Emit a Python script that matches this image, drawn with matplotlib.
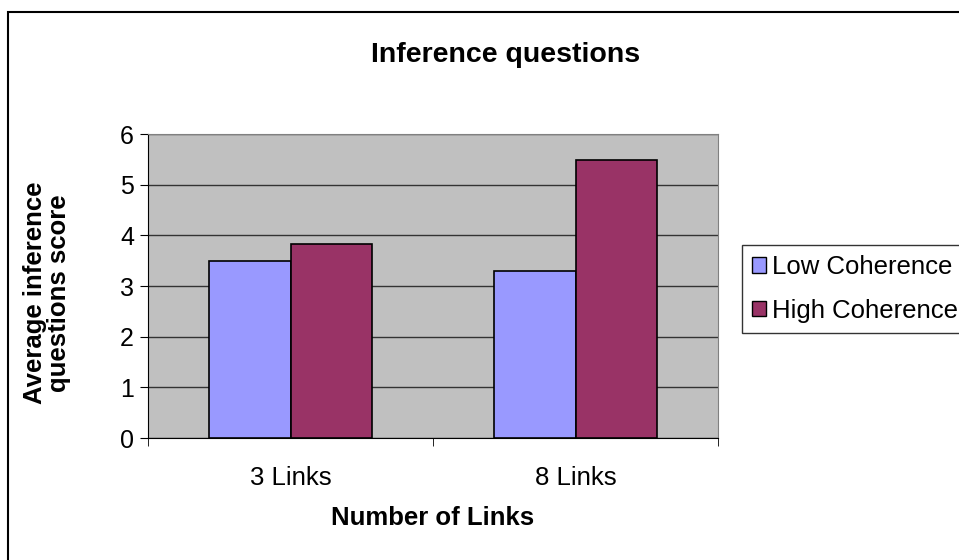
import matplotlib.pyplot as plt
import matplotlib.patches as mpatches
import numpy as np

plt.rcParams['font.family'] = ['Liberation Sans', 'DejaVu Sans']

categories = ["3 Links", "8 Links"]
low_coherence = [3.50, 3.30]
high_coherence = [3.82, 5.48]
series_names = ["Low Coherence", "High Coherence"]
colors = ["#9999FF", "#993366"]

fig = plt.figure(figsize=(9.59, 5.6), dpi=100)
ax = fig.add_axes([148 / 959, 1 - 438 / 560, 570 / 959, 304 / 560])
ax.set_facecolor("#C0C0C0")

x = np.arange(len(categories))
w = 0.2857
ax.bar(x - w / 2, low_coherence, w, color=colors[0], edgecolor="black", linewidth=1.2, zorder=3)
ax.bar(x + w / 2, high_coherence, w, color=colors[1], edgecolor="black", linewidth=1.2, zorder=3)

ax.set_xlim(-0.5, 1.5)
ax.set_ylim(0, 6)
ax.set_yticks(range(0, 7))
ax.yaxis.grid(True, color="#333333", linewidth=1, zorder=1)
ax.set_axisbelow(True)

ax.set_xticks(x)
ax.set_xticklabels(categories, fontsize=18.5)
ax.tick_params(axis="x", which="major", length=0, pad=20)
ax.set_xticks([-0.5, 0.5, 1.5], minor=True)
ax.tick_params(axis="x", which="minor", length=6, direction="out", color="black")
ax.tick_params(axis="y", labelsize=18, length=6, direction="out", pad=4)

for side in ["top", "right"]:
    ax.spines[side].set_color("#808080")
ax.spines["left"].set_color("black")
ax.spines["bottom"].set_color("black")

ax.set_xlabel("Number of Links", fontsize=18.5, fontweight="bold", labelpad=12)
fig.text(47 / 959, 1 - 293 / 560, "Average inference\nquestions score", fontsize=18.5,
         fontweight="bold", rotation=90, ha="center", va="center",
         multialignment="center", linespacing=1.0)
fig.text(506 / 959, 1 - 55 / 560, "Inference questions", fontsize=20.5, fontweight="bold",
         ha="center", va="center")

handles = [mpatches.Patch(facecolor=c, edgecolor="black", linewidth=1) for c in colors]
leg = ax.legend(handles, series_names, loc="upper left",
                bbox_to_anchor=(742 / 959, 1 - 245 / 560), bbox_transform=fig.transFigure,
                borderaxespad=0, fontsize=18.5, frameon=True, fancybox=False,
                handlelength=0.55, handleheight=0.55, handletextpad=0.2,
                labelspacing=0.75, borderpad=0.4)
leg.get_frame().set_edgecolor("black")
leg.get_frame().set_linewidth(1)

border = mpatches.Rectangle((8 / 959, -0.5), 2, 0.5 + 1 - 12 / 560, transform=fig.transFigure,
                            fill=False, edgecolor="black", linewidth=1.5)
fig.patches.append(border)

fig.savefig("out.png", dpi=100)
